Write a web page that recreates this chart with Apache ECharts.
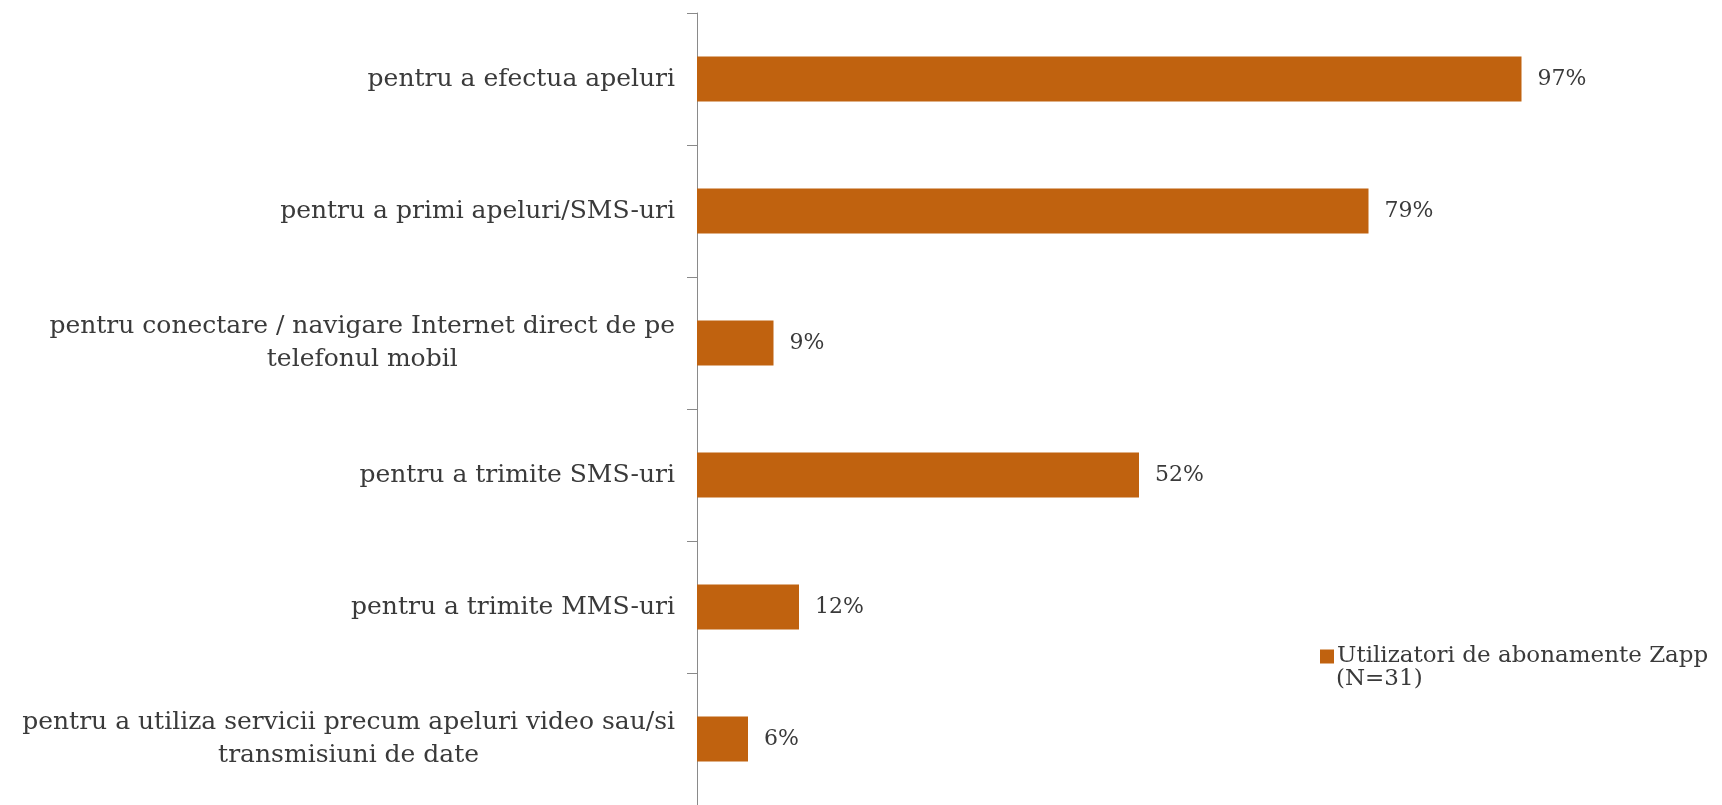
<!DOCTYPE html>
<html>
<head>
<meta charset="utf-8">
<script src="https://cdn.jsdelivr.net/npm/echarts@6/dist/echarts.min.js"></script>
<style>
  html, body { margin: 0; padding: 0; background: #ffffff; }
  #chart { width: 1722px; height: 805px; }
</style>
</head>
<body>
<div id="chart"></div>
<script>
// Usage categories (top to bottom), share of Zapp subscribers in percent
const categories = [
  'pentru a efectua apeluri',
  'pentru a primi apeluri/SMS-uri',
  'pentru conectare / navigare Internet direct de pe\ntelefonul mobil',
  'pentru a trimite SMS-uri',
  'pentru a trimite MMS-uri',
  'pentru a utiliza servicii precum apeluri video sau/si\ntransmisiuni de date'
];
const values = [97, 79, 9, 52, 12, 6];
const seriesName = 'Utilizatori de abonamente Zapp';
const sampleNote = '(N=31)';

const FONT = '"DejaVu Serif", "Liberation Serif", serif';
const TEXT = '#3a3a3a';
const BAR = '#c0620f';

const chart = echarts.init(document.getElementById('chart'), null, { renderer: 'canvas' });

chart.setOption({
  backgroundColor: '#ffffff',
  animation: false,
  grid: { left: 697, right: 175, top: 13, bottom: 0, containLabel: false },
  xAxis: {
    type: 'value',
    min: 0,
    max: 100,
    show: false,
    splitLine: { show: false }
  },
  yAxis: {
    type: 'category',
    data: categories,
    inverse: true,
    axisLine: { show: true, lineStyle: { color: '#8a8a8a', width: 1 } },
    axisTick: { show: true, inside: false, length: 10, lineStyle: { color: '#8a8a8a' } },
    axisLabel: {
      margin: 22,
      color: TEXT,
      fontFamily: FONT,
      fontSize: 25,
      lineHeight: 33,
      // each line of a wrapped label is centred under the longest one
      formatter: function (v) {
        return v.split('\n').map(function (l) { return '{c|' + l + '}'; }).join('\n');
      },
      rich: {
        c: { align: 'center', color: TEXT, fontFamily: FONT, fontSize: 25, lineHeight: 33 }
      }
    }
  },
  legend: {
    data: [seriesName],
    left: 1315,
    top: 640,
    icon: 'rect',
    itemWidth: 14,
    itemHeight: 14,
    itemGap: 6,
    textStyle: { color: TEXT, fontFamily: FONT, fontSize: 23, padding: [0, 0, 0, -2] }
  },
  graphic: [{
    type: 'text',
    left: 1336,
    top: 668,
    style: { text: sampleNote, fill: TEXT, font: '23px ' + FONT }
  }],
  series: [{
    name: seriesName,
    type: 'bar',
    data: values,
    barWidth: 45,
    itemStyle: { color: BAR },
    label: {
      show: true,
      position: 'right',
      distance: 16,
      color: TEXT,
      fontFamily: FONT,
      fontSize: 22,
      formatter: '{c}%'
    }
  }]
});
</script>
</body>
</html>
